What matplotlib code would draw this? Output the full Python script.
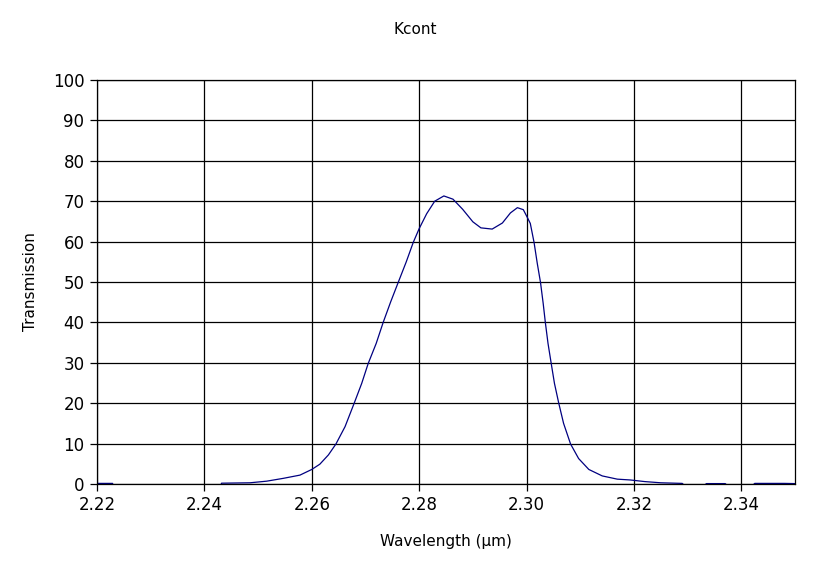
import matplotlib
matplotlib.use("Agg")
import matplotlib.pyplot as plt

# wavelength (micron) and transmission (%)
wavelength = [2.2200, 2.2229, 2.2230, 2.2430, 2.2432, 2.2485, 2.2516, 2.2547,
              2.2578, 2.2600, 2.2615, 2.2631, 2.2645, 2.2662, 2.2679, 2.2693,
              2.2705, 2.2720, 2.2733, 2.2747, 2.2761, 2.2776, 2.2789, 2.2800,
              2.2814, 2.2829, 2.2846, 2.2863, 2.2881, 2.2900, 2.2915, 2.2936,
              2.2955, 2.2970, 2.2983, 2.2994, 2.3001, 2.3007, 2.3014, 2.3020,
              2.3026, 2.3031, 2.3035, 2.3040, 2.3046, 2.3052, 2.3060, 2.3069,
              2.3082, 2.3097, 2.3116, 2.3141, 2.3169, 2.3193, 2.3220, 2.3250,
              2.3290, 2.3295, 2.3330, 2.3335, 2.3370, 2.3375, 2.3420, 2.3425,
              2.3480, 2.3500]
transmission = [0.15, 0.15, -0.5, -0.5, 0.2, 0.3, 0.7, 1.4,
                2.2, 3.6, 4.9, 7.2, 9.9, 14.2, 20.0, 24.9,
                29.8, 34.8, 40.0, 45.1, 49.9, 55.0, 59.8, 63.2,
                66.9, 70.0, 71.3, 70.5, 68.0, 64.9, 63.4, 63.1,
                64.6, 67.1, 68.4, 67.9, 66.1, 64.5, 59.8, 54.6,
                49.9, 44.7, 40.0, 34.8, 29.8, 24.9, 20.0, 15.0,
                9.9, 6.3, 3.6, 2.0, 1.2, 1.0, 0.6, 0.3,
                0.15, -0.5, -0.5, 0.1, 0.1, -0.5, -0.5, 0.15,
                0.15, 0.1]

xticks = [2.22, 2.24, 2.26, 2.28, 2.30, 2.32, 2.34]
xticklabels = ["2.22", "2.24", "2.26", "2.28", "2.30", "2.32", "2.34"]
yticks = [0, 10, 20, 30, 40, 50, 60, 70, 80, 90, 100]

fig = plt.figure(figsize=(8.33, 5.70), dpi=100)
ax = fig.add_axes([97/833, 86/570, 698/833, 404/570])

ax.plot(wavelength, transmission, color="#000080", lw=0.9)

ax.set_xlim(2.22, 2.35)
ax.set_ylim(0, 100)
ax.set_xticks(xticks)
ax.set_xticklabels(xticklabels)
ax.set_yticks(yticks)
ax.grid(True, color="black", lw=0.9)
for s in ax.spines.values():
    s.set_color("black")
    s.set_linewidth(0.9)
ax.tick_params(direction="out", length=5, width=0.9, labelsize=12, pad=4)

# title sits over the whole figure, not the plot area
fig.text(0.498, 1 - 30/570, "Kcont", fontsize=11, ha="center", va="center")
ax.set_xlabel("Wavelength (\u03bcm)", fontsize=11, labelpad=14)
ax.set_ylabel("Transmission", fontsize=11, labelpad=11)

fig.savefig("out.png", dpi=100)
